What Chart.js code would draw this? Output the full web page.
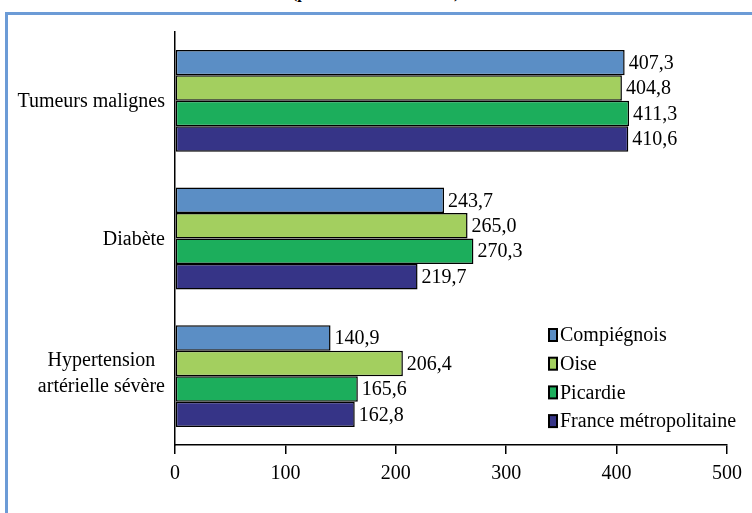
<!DOCTYPE html>
<html>
<head>
<meta charset="utf-8">
<script src="https://cdn.jsdelivr.net/npm/chart.js@4"></script>
<style>
body { margin: 0; background: #fff; }
#wrap { position: relative; width: 752px; height: 513px; overflow: hidden; }
#frame { position: absolute; left: 5px; top: 12px; width: 800px; height: 600px;
  border-left: 3px solid #6c9bd6; border-top: 3px solid #6c9bd6; }
#title { position: absolute; left: 292px; top: -15px; font: bold 16px/16px "Liberation Serif", serif;
  color: #000; white-space: nowrap; }
canvas { position: absolute; left: 0; top: 0; }
</style>
</head>
<body>
<div id="wrap">
  <div id="title">(pour 100 000 habitants)</div>
  <div id="frame"></div>
  <canvas id="graphic-ald" width="752" height="513"></canvas>
</div>
<script>
const labels = ['Tumeurs malignes', 'Diabète', ['Hypertension', 'artérielle sévère']];
const series = ['Compiégnois', 'Oise', 'Picardie', 'France métropolitaine'];
const compiegnois = [407.3, 243.7, 140.9];
const oise = [404.8, 265.0, 206.4];
const picardie = [411.3, 270.3, 165.6];
const france = [410.6, 219.7, 162.8];
const colors = ['#5b8ec5', '#a3cf5f', '#1cae5c', '#363487'];
const xTicks = [0, 100, 200, 300, 400, 500];

const serif = 'Liberation Serif, Times New Roman, serif';

const valueLabels = {
    id: 'valueLabels',
    afterDatasetsDraw(chart) {
        const ctx = chart.ctx;
        ctx.save();
        ctx.font = '20px ' + serif;
        ctx.fillStyle = '#000';
        ctx.textBaseline = 'middle';
        ctx.textAlign = 'left';
        chart.data.datasets.forEach((ds, i) => {
            chart.getDatasetMeta(i).data.forEach((bar, j) => {
                ctx.fillText(ds.data[j].toFixed(1).replace('.', ','), bar.x + 4, bar.y + 1);
            });
        });
        ctx.restore();
    }
};

// libelles des categories : bloc aligne a droite, lignes centrees entre elles
const categoryLabels = {
    id: 'categoryLabels',
    afterDraw(chart) {
        const ctx = chart.ctx;
        const yScale = chart.scales.y;
        ctx.save();
        ctx.font = '20px ' + serif;
        ctx.fillStyle = '#000';
        ctx.textBaseline = 'middle';
        ctx.textAlign = 'center';
        chart.data.labels.forEach((lab, i) => {
            const lines = Array.isArray(lab) ? lab : [lab];
            const w = Math.max(...lines.map(l => ctx.measureText(l).width));
            const cx = yScale.right - 10 - w / 2;
            const cy = yScale.getPixelForValue(i) + (lines.length > 1 ? -2 : 1);
            lines.forEach((l, k) => {
                ctx.fillText(l, cx, cy + (k - (lines.length - 1) / 2) * 26);
            });
        });
        ctx.restore();
    }
};

// legende dans la zone du graphique, en bas a droite
const innerLegend = {
    id: 'innerLegend',
    afterDraw(chart) {
        const ctx = chart.ctx;
        ctx.save();
        ctx.font = '20px ' + serif;
        ctx.textBaseline = 'middle';
        chart.data.datasets.forEach((ds, i) => {
            const y = 335 + i * 28.7;
            ctx.fillStyle = '#000';
            ctx.fillRect(548, y - 7, 10, 14);
            ctx.fillStyle = ds.backgroundColor;
            ctx.fillRect(550, y - 5, 6, 10);
            ctx.fillStyle = '#000';
            ctx.fillText(ds.label, 560, y + 1);
        });
        ctx.restore();
    }
};

const seriesData = [compiegnois, oise, picardie, france];

const data = {
    labels: labels,
    datasets: series.map((name, i) => ({
        label: name,
        data: seriesData[i],
        backgroundColor: colors[i],
        borderColor: '#000',
        borderWidth: 1.5,
        borderSkipped: false,
        categoryPercentage: 0.74,
        barPercentage: 1
    }))
};

const config = {
    type: 'bar',
    data: data,
    options: {
        indexAxis: 'y',
        responsive: false,
        animation: false,
        layout: { padding: { left: 0, top: 32, right: 25, bottom: 0 } },
        plugins: {
            legend: { display: false },
            tooltip: { enabled: false }
        },
        scales: {
            x: {
                min: 0,
                max: 500,
                afterBuildTicks: scale => { scale.ticks = xTicks.map(v => ({ value: v })); },
                afterFit: scale => { scale.height = 68; },
                ticks: { color: '#000', font: { family: serif, size: 20 }, padding: 8 },
                grid: { drawOnChartArea: false, drawTicks: true, tickLength: 9, color: '#000', lineWidth: 1.5 },
                border: { display: true, color: '#000', width: 1.5 }
            },
            y: {
                afterFit: scale => { scale.width = 175; },
                ticks: { display: false },
                grid: { display: false, drawTicks: false },
                border: { display: true, color: '#000', width: 1.5 }
            }
        }
    },
    plugins: [valueLabels, categoryLabels, innerLegend]
};

new Chart(document.getElementById('graphic-ald'), config);
</script>
</body>
</html>
